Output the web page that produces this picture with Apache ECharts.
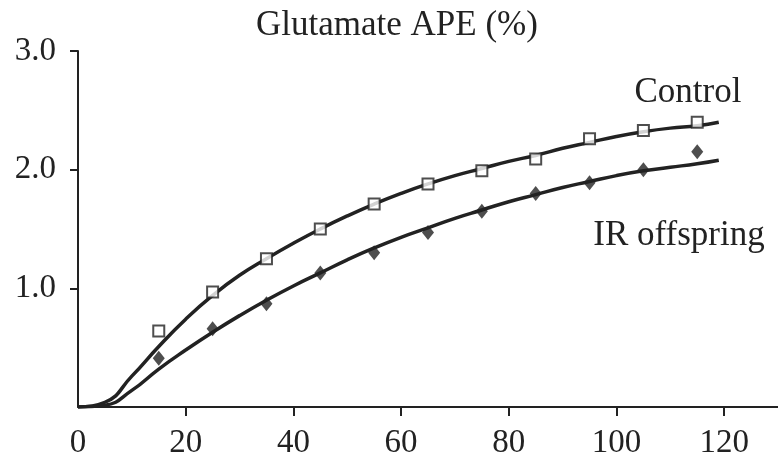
<!DOCTYPE html>
<html>
<head>
<meta charset="utf-8">
<script src="https://cdn.jsdelivr.net/npm/echarts@6/dist/echarts.min.js"></script>
<style>
  html, body { margin: 0; padding: 0; background: #fff; }
  #main { width: 778px; height: 462px; }
</style>
</head>
<body>
<div id="main"></div>
<script>
// measured points (time, APE %)
var pointTimes = [15, 25, 35, 45, 55, 65, 75, 85, 95, 105, 115]
var controlPoints = [0.64, 0.97, 1.25, 1.50, 1.71, 1.88, 1.99, 2.09, 2.26, 2.33, 2.40]
var irPoints = [0.41, 0.66, 0.87, 1.13, 1.30, 1.47, 1.65, 1.80, 1.89, 2.00, 2.15]

// fitted curves
var curveTimes = [0, 5, 10, 15, 20, 25, 30, 35, 40, 45, 50, 55, 60, 65, 70, 75, 80, 85, 90, 95, 100, 105, 110, 115, 119]
var controlCurve = [0, 0.04, 0.26, 0.51, 0.74, 0.94, 1.11, 1.25, 1.38, 1.50, 1.61, 1.71, 1.80, 1.88, 1.95, 2.01, 2.07, 2.12, 2.18, 2.23, 2.28, 2.32, 2.35, 2.37, 2.40]
var irCurve = [0, 0.015, 0.14, 0.32, 0.48, 0.63, 0.77, 0.90, 1.02, 1.13, 1.24, 1.34, 1.43, 1.51, 1.59, 1.66, 1.73, 1.79, 1.85, 1.90, 1.95, 1.99, 2.02, 2.05, 2.08]

// axis ticks
var xTickValues = [20, 40, 60, 80, 100, 120]
var xLabelValues = [0, 20, 40, 60, 80, 100, 120]
var yTickValues = [1, 2, 3]

function pairs (xs, ys) {
  return xs.map(function (x, i) { return [x, ys[i]] })
}

var ink = '#222'
var serif = '"Liberation Serif", "Times New Roman", serif'

var myChart = echarts.init(document.getElementById('main'))
myChart.setOption({
  animation: false,
  grid: { left: 78, top: 51, right: -4, bottom: 55 },
  xAxis: {
    type: 'value',
    min: 0,
    max: 130,
    splitLine: { show: false },
    axisLine: { lineStyle: { color: ink, width: 2 } },
    axisTick: { customValues: xTickValues, length: 9, lineStyle: { color: ink, width: 2 } },
    axisLabel: {
      customValues: xLabelValues,
      margin: 20,
      color: ink,
      fontFamily: serif,
      fontSize: 33
    }
  },
  yAxis: {
    type: 'value',
    min: 0,
    max: 3,
    splitLine: { show: false },
    axisLine: { show: true, lineStyle: { color: ink, width: 2 } },
    axisTick: { customValues: yTickValues, length: 8, lineStyle: { color: ink, width: 2 } },
    axisLabel: {
      customValues: yTickValues,
      margin: 22,
      color: ink,
      fontFamily: serif,
      fontSize: 33,
      formatter: function (v) { return v.toFixed(1) }
    }
  },
  graphic: [
    { type: 'text', x: 397, y: 26, style: { text: 'Glutamate APE (%)', fill: ink, font: '35px ' + serif, textAlign: 'center', textVerticalAlign: 'middle' } },
    { type: 'text', x: 688, y: 93, style: { text: 'Control', fill: ink, font: '35px ' + serif, textAlign: 'center', textVerticalAlign: 'middle' } },
    { type: 'text', x: 679, y: 236, style: { text: 'IR offspring', fill: ink, font: '35px ' + serif, textAlign: 'center', textVerticalAlign: 'middle' } }
  ],
  series: [
    {
      name: 'Control fit',
      type: 'line',
      smooth: 0.5,
      showSymbol: false,
      data: pairs(curveTimes, controlCurve),
      lineStyle: { color: ink, width: 3.5 },
      z: 2
    },
    {
      name: 'IR fit',
      type: 'line',
      smooth: 0.5,
      showSymbol: false,
      data: pairs(curveTimes, irCurve),
      lineStyle: { color: ink, width: 3.5 },
      z: 2
    },
    {
      name: 'Control',
      type: 'scatter',
      symbol: 'rect',
      symbolSize: 11,
      data: pairs(pointTimes, controlPoints),
      itemStyle: { color: '#fff', borderColor: ink, borderWidth: 2 },
      z: 3
    },
    {
      name: 'IR offspring',
      type: 'scatter',
      symbol: 'diamond',
      symbolSize: [12, 15],
      data: pairs(pointTimes, irPoints),
      itemStyle: { color: ink },
      z: 3
    }
  ]
})
</script>
</body>
</html>
